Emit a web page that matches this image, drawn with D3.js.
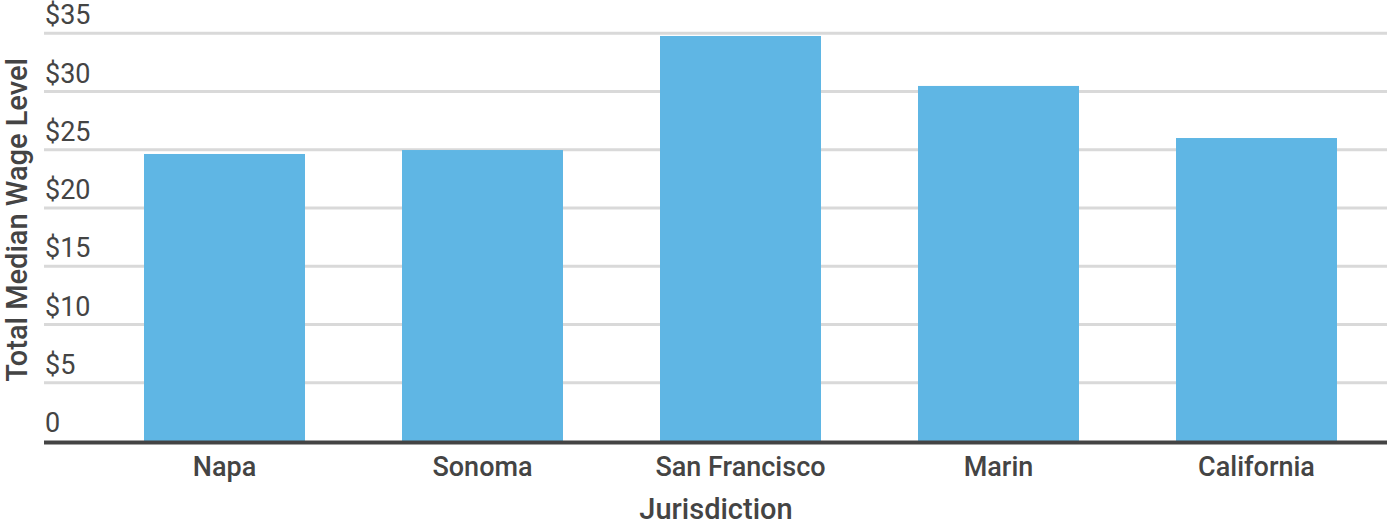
<!DOCTYPE html>
<html>
<head>
<meta charset="utf-8">
<script src="https://cdn.jsdelivr.net/npm/d3@7"></script>
<style>
  body { margin: 0; background: #fff; }
  text { font-family: Roboto, "Noto Sans", sans-serif; fill: #444; }
</style>
</head>
<body>
<div id="plot"></div>
<script>
// Chart data
const jurisdictions = ["Napa", "Sonoma", "San Francisco", "Marin", "California"];
const medianWages = [24.64, 24.98, 34.77, 30.48, 26.01];
const yTicks = [0, 5, 10, 15, 20, 25, 30, 35];

const width = 1387;
const height = 526;

const svg = d3.select("#plot")
    .append("svg")
    .attr("width", width)
    .attr("height", height);

// Scales
const x = d3.scaleBand()
    .domain(jurisdictions)
    .range([95.5, 1385.5])
    .paddingInner(0.376)
    .paddingOuter(0.188);

const y = d3.scaleLinear()
    .domain([0, 35])
    .range([441, 33.3]);

// Grid lines
svg.append("g")
    .selectAll("line")
    .data(yTicks.filter(d => d > 0))
    .enter()
    .append("line")
    .attr("x1", 44)
    .attr("x2", width)
    .attr("y1", d => y(d))
    .attr("y2", d => y(d))
    .attr("stroke", "#d9d9d9")
    .attr("stroke-width", 3);

// Tick labels sit above each grid line
svg.append("g")
    .selectAll("text")
    .data(yTicks)
    .enter()
    .append("text")
    .attr("x", 45)
    .attr("y", d => y(d) - 9)
    .attr("font-size", "27px")
    .text(d => d === 0 ? "0" : "$" + d);

// Bars
svg.append("g")
    .selectAll("rect")
    .data(medianWages)
    .enter()
    .append("rect")
    .attr("x", (d, i) => x(jurisdictions[i]))
    .attr("y", d => y(d))
    .attr("width", x.bandwidth())
    .attr("height", d => y(0) - y(d))
    .attr("fill", "#5fb6e4");

// Baseline
svg.append("line")
    .attr("x1", 44)
    .attr("x2", width)
    .attr("y1", y(0) + 1.5)
    .attr("y2", y(0) + 1.5)
    .attr("stroke", "#444")
    .attr("stroke-width", 4);

// Category labels
svg.append("g")
    .selectAll("text")
    .data(jurisdictions)
    .enter()
    .append("text")
    .attr("x", d => x(d) + x.bandwidth() / 2)
    .attr("y", 476)
    .attr("text-anchor", "middle")
    .attr("font-size", "27px")
    .attr("font-weight", 500)
    .text(d => d);

// Axis titles
svg.append("text")
    .attr("x", 716)
    .attr("y", 519)
    .attr("text-anchor", "middle")
    .attr("font-size", "29px")
    .attr("font-weight", 500)
    .text("Jurisdiction");

svg.append("text")
    .attr("transform", "translate(27,220) rotate(-90)")
    .attr("text-anchor", "middle")
    .attr("font-size", "29px")
    .attr("font-weight", 500)
    .text("Total Median Wage Level");
</script>
</body>
</html>
